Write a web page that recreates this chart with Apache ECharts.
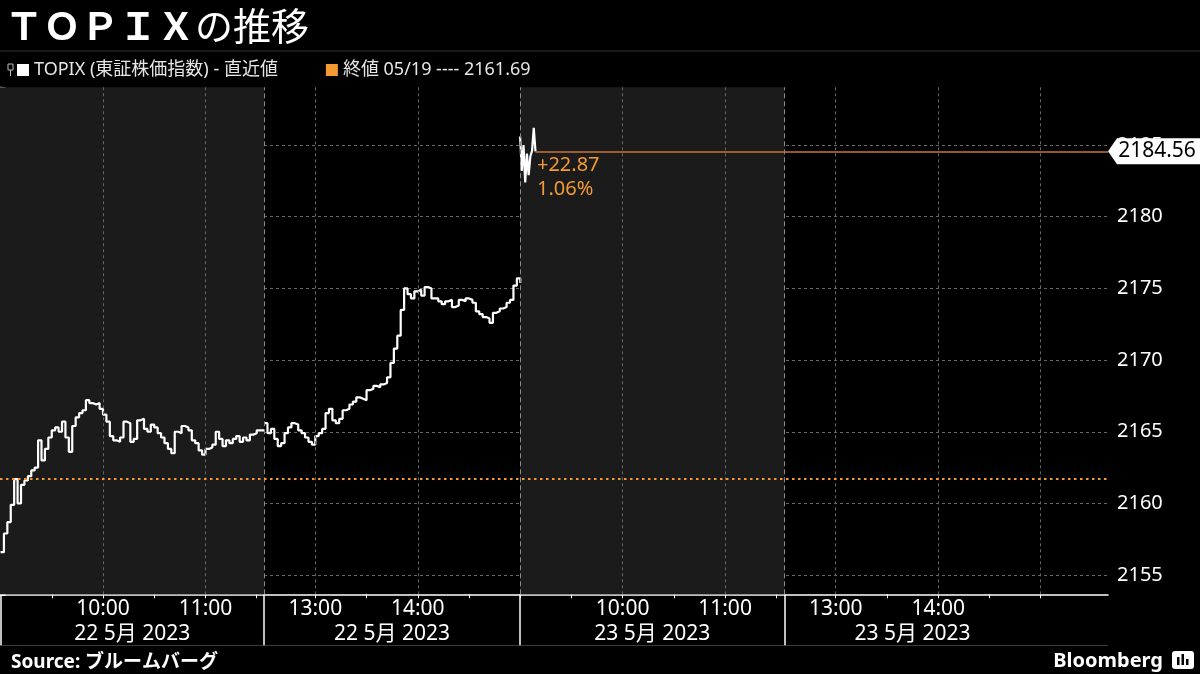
<!DOCTYPE html>
<html><head><meta charset="utf-8">
<script src="https://cdn.jsdelivr.net/npm/echarts@6/dist/echarts.min.js"></script>
<style>html,body{margin:0;padding:0;background:#000;}#c{width:1200px;height:674px;}</style>
</head><body><div id="c"></div>
<script>
// ---------- data ----------
const sessionDates = ['22 5月 2023', '22 5月 2023', '23 5月 2023', '23 5月 2023'];
const sessionOpen = ['09:00', '12:30', '09:00', '12:30'];
// compressed trading-time axis: where each session begins (minutes)
const sessionStart = [0, 154.3, 304.2, 459.0];
const sessionLength = 150;
const xMin = -0.3, xMax = 648.4;
// TOPIX, 22 May morning, every 2 minutes from 09:00
const day1AM = [2156.6,2157.9,2158.7,2159.9,2161.7,2160.0,2161.3,2161.6,2161.9,2162.3,
 2162.5,2164.4,2163.0,2163.8,2164.6,2165.1,2165.3,2165.0,2165.7,2164.6,
 2163.6,2165.4,2166.0,2166.3,2166.5,2167.2,2167.0,2166.9,2167.0,2166.6,
 2166.2,2165.7,2164.7,2164.4,2164.3,2164.6,2165.7,2165.6,2164.3,2164.5,
 2165.8,2165.9,2165.2,2165.0,2165.5,2165.3,2164.9,2164.6,2164.2,2163.8,
 2163.5,2165.0,2164.9,2165.4,2165.3,2165.1,2164.4,2164.2,2163.7,2163.4,
 2163.8,2163.9,2164.1,2165.0,2164.5,2164.0,2164.4,2164.2,2164.5,2164.7,
 2164.3,2164.6,2164.4,2164.8,2164.9,2165.1];
// 22 May afternoon, every 2 minutes from 12:30
const day1PM = [2165.6,2164.9,2165.2,2164.5,2164.0,2164.2,2164.9,2165.3,2165.6,2165.5,
 2165.1,2164.9,2164.6,2164.3,2164.1,2164.7,2164.9,2165.2,2166.3,2166.6,
 2165.8,2165.6,2165.9,2166.5,2166.6,2166.9,2167.1,2167.4,2167.3,2167.2,
 2167.9,2168.0,2168.2,2168.1,2168.3,2168.4,2168.8,2169.8,2170.8,2171.7,
 2173.5,2175.0,2174.6,2174.3,2174.8,2174.9,2174.5,2175.1,2175.0,2174.3,
 2174.3,2174.1,2173.9,2174.1,2174.2,2173.7,2173.8,2174.2,2174.1,2174.3,
 2174.2,2174.0,2173.4,2173.2,2173.0,2172.9,2172.6,2173.3,2173.4,2173.6,
 2173.7,2174.0,2174.2,2175.2,2175.7,2175.4];
// 23 May opening, every minute from 09:00
const day2AM = [2185.6,2183.2,2185.0,2182.4,2184.4,2182.9,2184.2,2184.6,2186.2,2184.56];
const sessionValues = [day1AM, day1PM, day2AM];
const sessionStep = [2, 2, 1];
const prevClose = 2161.69;
const prevCloseDate = '05/19';
const timeTickLabels = ['10:00', '11:00', '13:00', '14:00', '10:00', '11:00', '13:00', '14:00'];
const timeTickSessions = [0, 0, 1, 1, 2, 2, 3, 3];
const yMin = 2153.66, yMax = 2189.03;
const seriesName = 'TOPIX (東証株価指数) - 直近値';

// ---------- helpers ----------
const toMin = s => { const p = s.split(':').map(Number); return p[0] * 60 + p[1]; };
const pos = (s, t) => sessionStart[s] + toMin(t) - toMin(sessionOpen[s]);
const findNear = (arr, v) => arr.findIndex(p => Math.abs(p - Number(v)) < 0.05);

const lineData = [];
sessionValues.forEach((vals, s) => {
  if (s > 0) lineData.push([sessionStart[s] - 0.01, null]);
  vals.forEach((v, i) => lineData.push([sessionStart[s] + i * sessionStep[s], v]));
});
const lastVals = sessionValues[sessionValues.length - 1];
const lastVal = lastVals[lastVals.length - 1];
const lastX = sessionStart[2] + (lastVals.length - 1) * sessionStep[2];
const chg = lastVal - prevClose;
const pct = chg / prevClose * 100;

const tickVals = [];
sessionStart.forEach(st => { for (let k = 1; k <= 5; k++) tickVals.push(st + 30 * k); });
const labelVals = timeTickLabels.map((t, i) => pos(timeTickSessions[i], t));
const hourLines = labelVals.concat([pos(3, '15:00')]);
const boundaries = [xMin + 0.3, sessionStart[1], sessionStart[2], sessionStart[3]];
const centers = sessionStart.map((st, s) => (st + (s < 3 ? sessionStart[s + 1] : st + sessionLength)) / 2);

const FF = "'Noto Sans', 'Noto Sans CJK JP', sans-serif";
const ORANGE = '#f39a32';
const prevName = '終値 ' + prevCloseDate + ' ---- ' + prevClose.toFixed(2);

const chart = echarts.init(document.getElementById('c'));
chart.setOption({
  backgroundColor: '#000',
  animation: false,
  textStyle: { fontFamily: FF },
  title: [
    {
      text: '{a|ＴＯＰＩＸ}{b|の推移}', left: 0, top: 2,
      textStyle: { rich: {
        a: { fontFamily: "'Noto Sans CJK JP'", fontWeight: 'bold', fontSize: 38, color: '#fff' },
        b: { fontFamily: "'Noto Sans CJK JP'", fontWeight: 'normal', fontSize: 38, color: '#fff' }
      } }
    },
    {
      text: '{a|Source:} {b|ブルームバーグ}', left: 6, top: 648,
      textStyle: { rich: {
        a: { fontFamily: FF, fontWeight: 'bold', fontSize: 19, color: '#fff' },
        b: { fontFamily: FF, fontSize: 19, color: '#fff' }
      } }
    },
    {
      text: 'Bloomberg', right: 32, top: 646,
      textStyle: { fontFamily: FF, fontWeight: 'bold', fontSize: 20, color: '#fff' }
    }
  ],
  graphic: [
    { type: 'line', shape: { x1: 0, y1: 51, x2: 1200, y2: 51 }, style: { stroke: '#333', lineWidth: 1 } },
    { type: 'line', shape: { x1: 0, y1: 645.5, x2: 1108, y2: 645.5 }, style: { stroke: '#3a3a3a', lineWidth: 1 } },
    { type: 'rect', shape: { x: 8, y: 64, width: 5, height: 6 }, style: { stroke: '#bbb', fill: 'none', lineWidth: 1 } },
    { type: 'line', shape: { x1: 10.5, y1: 70, x2: 10.5, y2: 76 }, style: { stroke: '#bbb', lineWidth: 1 } },
    { type: 'rect', shape: { x: 1172, y: 651, width: 22, height: 18, r: 3 }, style: { fill: '#fff' } },
    { type: 'rect', shape: { x: 1177, y: 657, width: 2.5, height: 8 }, style: { fill: '#000' } },
    { type: 'rect', shape: { x: 1181.5, y: 654, width: 2.5, height: 11 }, style: { fill: '#000' } },
    { type: 'rect', shape: { x: 1186, y: 659, width: 2.5, height: 6 }, style: { fill: '#000' } }
  ],
  legend: {
    data: [seriesName, prevName],
    left: 17, top: 61, padding: 0, itemGap: 48, itemWidth: 12, itemHeight: 12,
    icon: 'rect',
    textStyle: { color: '#e6e6e6', fontSize: 18, fontFamily: FF },
    selectedMode: false
  },
  grid: { left: 0, right: 92, top: 87.3, bottom: 79.7, containLabel: false },
  xAxis: [
    {
      type: 'value', min: xMin, max: xMax, position: 'bottom',
      axisLine: { show: true, lineStyle: { color: '#fff', width: 1.5 } },
      axisTick: { show: true, customValues: tickVals, length: 4, lineStyle: { color: '#fff', width: 1 } },
      axisLabel: {
        show: true, customValues: labelVals, margin: 4, hideOverlap: false,
        showMinLabel: true, showMaxLabel: true,
        formatter: v => { const k = findNear(labelVals, v); return k >= 0 ? timeTickLabels[k] : ''; },
        color: '#fff', fontSize: 21, fontFamily: FF
      },
      splitLine: { show: false }
    },
    {
      type: 'value', min: xMin, max: xMax, position: 'bottom',
      axisLine: { show: false },
      axisTick: { show: true, customValues: boundaries, length: 51, lineStyle: { color: '#fff', width: 1.5 } },
      axisLabel: {
        show: true, customValues: centers, margin: 29, hideOverlap: false,
        formatter: v => { const k = findNear(centers, v); return k >= 0 ? sessionDates[k] : ''; },
        color: '#fff', fontSize: 21, fontFamily: FF
      },
      splitLine: { show: false }
    }
  ],
  yAxis: {
    type: 'value', position: 'right', min: yMin, max: yMax, splitNumber: 7,
    axisLine: { show: true, lineStyle: { color: '#fff', width: 1.5 } },
    axisTick: { show: true, length: 5, lineStyle: { color: '#fff', width: 2 } },
    minorTick: { show: true, splitNumber: 2, length: 3, lineStyle: { color: '#fff', width: 1 } },
    axisLabel: {
      color: '#fff', fontSize: 20, fontFamily: FF, margin: 9,
      showMinLabel: false, showMaxLabel: false,
      formatter: v => (Math.abs(v / 5 - Math.round(v / 5)) < 1e-6 ? String(Math.round(v)) : '')
    },
    splitLine: { show: true, showMinLine: false, showMaxLine: false, lineStyle: { color: '#666', type: [3, 3], width: 1 } }
  },
  series: [
    {
      name: 'shade', type: 'line', data: [], z: -1, silent: true, clip: false,
      markArea: {
        silent: true,
        itemStyle: { color: '#1b1b1b' },
        data: [
          [{ xAxis: xMin }, { xAxis: sessionStart[1] }],
          [{ xAxis: sessionStart[2] }, { xAxis: sessionStart[3] }]
        ]
      }
    },
    {
      name: 'vlines', type: 'line', data: [], z: 1, silent: true, clip: false,
      markLine: {
        silent: true, symbol: 'none', label: { show: false },
        data: hourLines.map(v => ({ xAxis: v, lineStyle: { color: '#666', type: [3, 3], width: 1 } }))
          .concat(boundaries.slice(1).map(v => ({ xAxis: v, lineStyle: { color: '#8a8a8a', type: [5, 3], width: 1 } })))
      }
    },
    {
      name: prevName,
      type: 'line', data: [], z: 2, clip: false,
      itemStyle: { color: ORANGE }, lineStyle: { color: ORANGE },
      markLine: {
        silent: true, symbol: 'none', label: { show: false },
        lineStyle: { color: ORANGE, type: [2.5, 3.5], width: 2 },
        data: [{ yAxis: prevClose }]
      }
    },
    {
      name: seriesName, type: 'line', step: 'end', data: lineData,
      showSymbol: false, connectNulls: false, clip: false, z: 3,
      itemStyle: { color: '#fff' },
      lineStyle: { color: '#fff', width: 2.2 },
      markLine: {
        silent: true, symbol: 'none', label: { show: false },
        lineStyle: { color: '#c8763a', width: 1.5, type: 'solid' },
        data: [[{ coord: [lastX, lastVal] }, { coord: [xMax, lastVal] }]]
      },
      markPoint: {
        silent: true,
        data: [
          {
            coord: [lastX, lastVal], symbol: 'circle', symbolSize: 1,
            itemStyle: { color: 'rgba(0,0,0,0)' },
            label: {
              show: true, position: 'right', distance: 1, offset: [0, 26],
              formatter: '+' + chg.toFixed(2) + '\n' + pct.toFixed(2) + '%',
              color: ORANGE, fontSize: 20, lineHeight: 24, fontFamily: FF, align: 'left'
            }
          },
          {
            coord: [xMax, lastVal],
            symbol: 'path://M0,13 L9,0 L92,0 L92,26 L9,26 Z',
            symbolSize: [92, 26], symbolKeepAspect: false, symbolOffset: ['50%', 0],
            itemStyle: { color: '#fff' },
            label: {
              show: true, position: 'inside', offset: [3, 0],
              formatter: lastVal.toFixed(2),
              color: '#000', fontSize: 21, fontFamily: FF
            }
          }
        ]
      }
    }
  ]
});
</script></body></html>
